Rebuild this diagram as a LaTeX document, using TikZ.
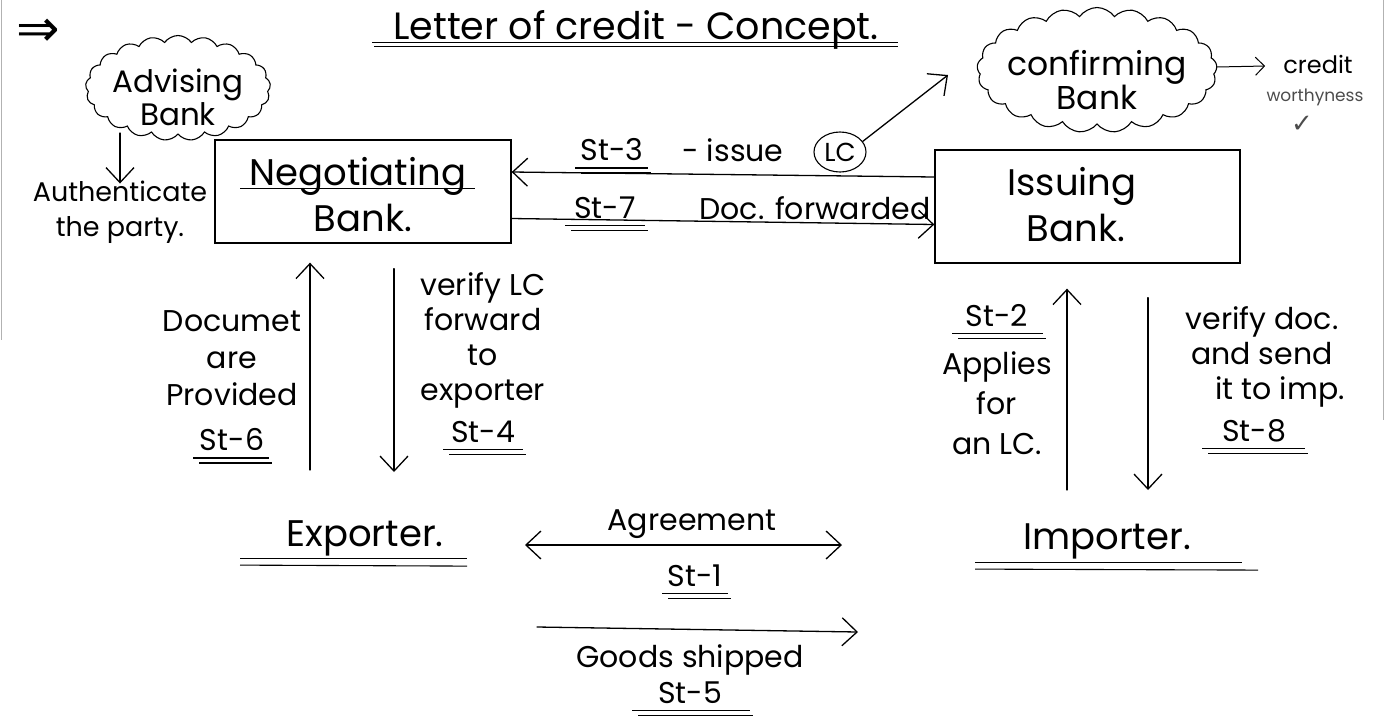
\documentclass[tikz,border=0pt]{standalone}
\usepackage{fontspec}
\setmainfont{Poppins}
\newfontfamily\symfont{DejaVu Sans}
\usetikzlibrary{arrows.meta,shapes.symbols,shapes.geometric}
% double underline, offsets measured from the node's centre
\newcommand\dul[3]{%
  \draw[ul] ([xshift=#2,yshift=-7]#1.base) -- ([xshift=#3,yshift=-7]#1.base);
  \draw[ul] ([xshift=#2+6,yshift=-12]#1.base) -- ([xshift=#3+3,yshift=-12]#1.base);}
\begin{document}
\begin{tikzpicture}[x=1pt,y=-1pt,
  ln/.style={line width=1.3pt,line cap=round},
  arr/.style={ln,-{Straight Barb[length=15pt,width=28pt]}},
  ul/.style={line width=1.1pt},
  big/.style={font=\fontsize{37}{42}\selectfont,inner sep=0pt,align=center},
  mid/.style={font=\fontsize{30}{37}\selectfont,inner sep=0pt,align=center},
  sml/.style={font=\fontsize{24}{30}\selectfont,inner sep=0pt,align=center},
  box/.style={draw,line width=1.3pt,inner sep=0pt},
  cld/.style={draw,cloud,cloud puffs=21,cloud puff arc=110,cloud ignores aspect,line width=1.1pt,inner sep=0pt}
]
\useasboundingbox (0,0) rectangle (1385,716);
% page edges
\draw[gray!60,line width=0.8pt] (1.5,0) -- (1.5,340);
\draw[gray!60,line width=0.8pt] (1383,0) -- (1383,420);

% heading
\node[font=\symfont\fontsize{52}{52}\selectfont,inner sep=0pt] (rarr) at (38,33) {⇒};
\node[font=\fontsize{38}{42}\selectfont,inner sep=0pt] (title) at (636,30) {Letter of credit - Concept.};
\draw[ul] ([xshift=-264,yshift=-3]title.base) -- ([xshift=262,yshift=-3]title.base);
\draw[ul] ([xshift=-262,yshift=-7]title.base) -- ([xshift=262,yshift=-7]title.base);

% advising bank
\node[cld,minimum width=185,minimum height=105] (adv) at (178,88) {};
\node[font=\fontsize{31}{33}\selectfont,inner sep=0pt,align=center] (advt) at (178,97) {Advising\\Bank};
\node[font=\fontsize{27}{35}\selectfont,inner sep=0pt,align=center] (auth) at (120,212) {Authenticate\\the party.};
\draw[arr] ([xshift=-58,yshift=-45]adv.center) -- ([yshift=-3]auth.north);

% negotiating bank
\node[box,minimum width=296,minimum height=103] (neg) at (363,191.5) {};
\node[big] (negt) at (358,176) {Negotiating};
\draw[ul] ([xshift=-118,yshift=-3]negt.base) -- ([xshift=117,yshift=-3]negt.base);
\node[big] (negb) at (363,218) {Bank.};

% issuing bank
\node[box,minimum width=305,minimum height=113] (iss) at (1087.5,206.5) {};
\node[big] (isst) at (1072,186) {Issuing};
\node[big] (issb) at (1076,228) {Bank.};

% confirming bank
\node[cld,minimum width=240,minimum height=125] (conf) at (1097,70) {};
\node[font=\fontsize{33}{33}\selectfont,inner sep=0pt,align=center] (conft) at (1097,80) {confirming\\Bank};
\node[sml] (credt) at (1318,64) {credit};
\node[font=\fontsize{17}{20}\selectfont,inner sep=0pt,text=black!70] (worth) at (1315,97) {worthyness};
\node[font=\symfont\fontsize{26}{26}\selectfont,inner sep=0pt,text=black!70] (chk) at (1302,124) {✓};
\draw[ln,line width=1pt,-{Straight Barb[length=9pt,width=18pt]}] ([yshift=3]conf.east) -- ([xshift=-18,yshift=-2]credt.west);

% St-3 and St-7 between the banks
\draw[arr] ([yshift=29.5]iss.west) -- ([yshift=19.5]neg.east);
\node[mid] (s3) at (612,150) {St-3};
\dul{s3}{-37}{36}
\node[mid] (s3t) at (733,150) {- issue};
\node[draw,ellipse,line width=1.1pt,inner sep=0pt,minimum width=52,minimum height=40,font=\fontsize{26}{26}\selectfont] (lc) at (840,152) {LC};
\coordinate (lcto) at (948,75);
\draw[arr] (lc.25) -- (lcto);

\draw[arr] ([yshift=-27]neg.east) -- ([yshift=-18]iss.west);
\node[mid] (s7) at (605,208) {St-7};
\dul{s7}{-40}{40}
\node[mid] (s7t) at (815,208) {Doc. forwarded};

% exporter side
\node[big] (exp) at (365,538) {Exporter.};
\draw[ul] ([xshift=-125,yshift=-12]exp.base) -- ([xshift=102,yshift=-12]exp.base);
\draw[ul] ([xshift=-125,yshift=-19]exp.base) -- ([xshift=102,yshift=-20]exp.base);

\coordinate (c6) at (310,470);
\draw[arr] (c6) -- ([xshift=-53,yshift=-19]neg.south);
\node[mid] (doc) at (232,358) {Documet\\are\\Provided};
\node[mid] (s6) at (232,440) {St-6};
\dul{s6}{-39}{37}

\coordinate (c4) at (394,472);
\draw[arr] ([xshift=31,yshift=-25]neg.south) -- (c4);
\node[font=\fontsize{30}{35}\selectfont,inner sep=0pt,align=center] (ver) at (483,340) {verify LC\\forward\\to\\exporter};
\node[mid] (s4) at (483,432) {St-4};
\dul{s4}{-40}{40}

% importer side
\node[big] (imp) at (1107,541) {Importer.};
\draw[ul] ([xshift=-132,yshift=-13]imp.base) -- ([xshift=135,yshift=-13]imp.base);
\draw[ul] ([xshift=-132,yshift=-20]imp.base) -- ([xshift=151,yshift=-21]imp.base);

\coordinate (c2) at (1067,490);
\draw[arr] (c2) -- ([xshift=-20.5,yshift=-25]iss.south);
\node[mid] (s2) at (997,316) {St-2};
\dul{s2}{-45}{46}
\node[font=\fontsize{30}{40}\selectfont,inner sep=0pt,align=center] (app) at (997,403) {Applies\\for\\an LC.};

\coordinate (c8) at (1148,490);
\draw[arr] ([xshift=60.5,yshift=-34]iss.south) -- (c8);
\node[font=\fontsize{30}{35}\selectfont,inner sep=0pt,align=center] (vdoc) at (1262,357) {verify doc.\\and send\\\hspace*{1.2em}it to imp.};
\node[mid] (s8) at (1254,431) {St-8};
\dul{s8}{-52}{51}

% agreement and goods
\coordinate (agL) at (525,545);
\coordinate (agR) at (842,545);
\draw[ln,{Straight Barb[length=15pt,width=28pt]}-{Straight Barb[length=15pt,width=28pt]}] (agL) -- (agR);
\node[mid] (agr) at (692,524) {Agreement};
\node[mid] (s1) at (695,576) {St-1};
\dul{s1}{-33}{33}

\coordinate (gsL) at (537,627);
\coordinate (gsR) at (858,632);
\draw[arr] (gsL) -- (gsR);
\node[mid] (gds) at (690,660) {Goods shipped};
\node[mid] (s5) at (690,693) {St-5};
\dul{s5}{-58}{60}
\end{tikzpicture}
\end{document}
